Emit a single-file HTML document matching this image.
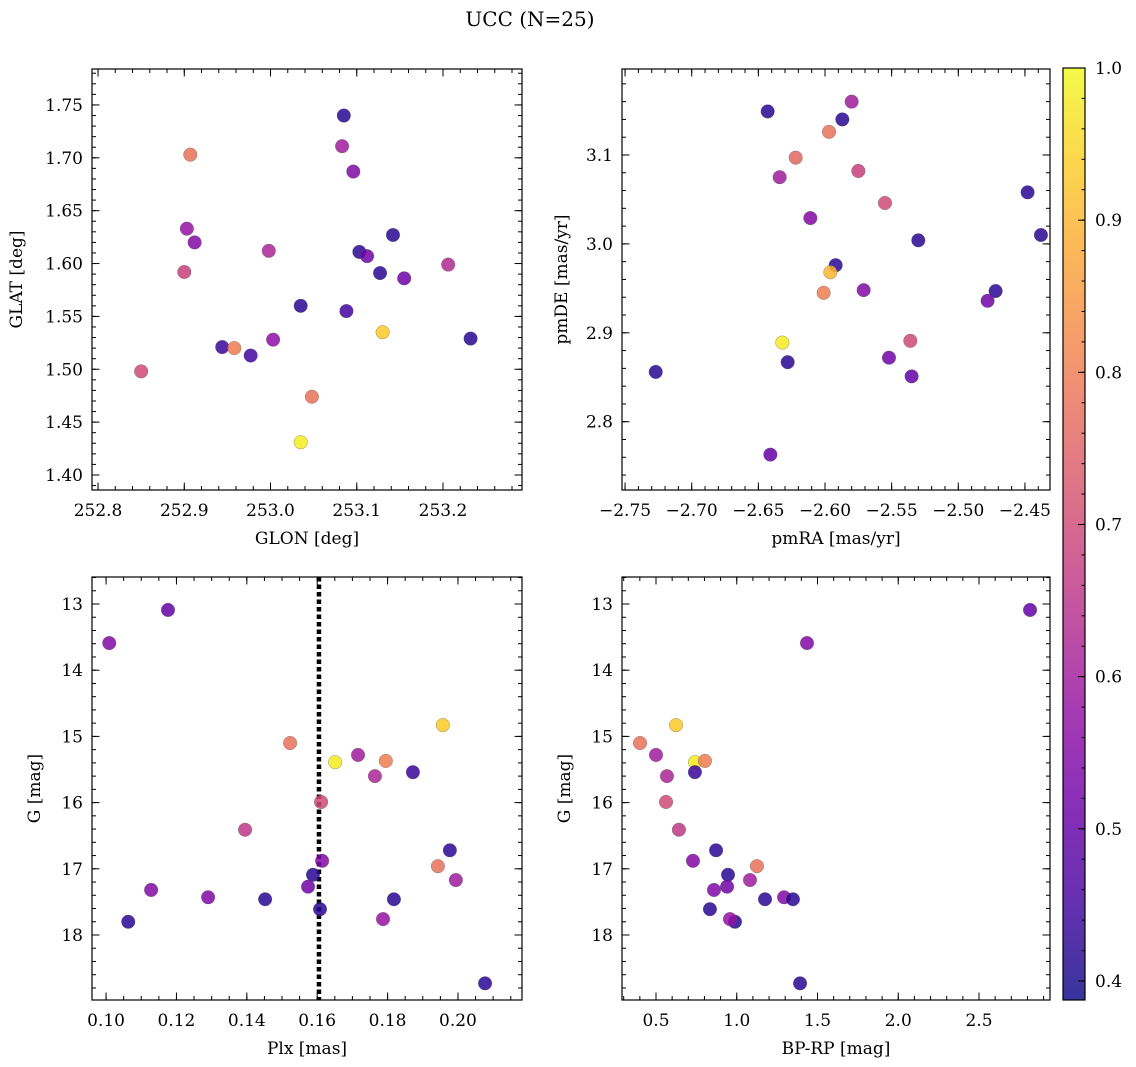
<!DOCTYPE html>
<html><head><meta charset="utf-8">
<style>
html,body{margin:0;padding:0;background:#fff;}
svg{display:block;font-family:"DejaVu Serif","Liberation Serif",serif;}
</style></head>
<body>
<svg id="fig" width="1136" height="1067" viewBox="0 0 1136 1067" xmlns="http://www.w3.org/2000/svg">
<defs>
<linearGradient id="plasma" x1="0" y1="1" x2="0" y2="0">
<stop offset="0" stop-color="#0d0887"/><stop offset="0.1" stop-color="#41049d"/><stop offset="0.2" stop-color="#6a00a8"/><stop offset="0.3" stop-color="#8f0da4"/><stop offset="0.4" stop-color="#b12a90"/><stop offset="0.5" stop-color="#cc4778"/><stop offset="0.6" stop-color="#e16462"/><stop offset="0.7" stop-color="#f2844b"/><stop offset="0.8" stop-color="#fca636"/><stop offset="0.9" stop-color="#fcce25"/><stop offset="1" stop-color="#f0f921"/>
</linearGradient>
</defs>
<text x="530" y="26" font-size="20" text-anchor="middle">UCC (N=25)</text>
</svg>
<script>
// ---- data ----
const glon = [253.085,252.907,253.083,253.096,252.903,252.912,252.998,252.900,253.103,253.112,253.142,253.127,253.155,253.206,253.035,253.088,253.130,252.944,252.958,252.977,253.003,253.232,252.850,253.048,253.035];
const glat = [1.740,1.703,1.711,1.687,1.633,1.620,1.612,1.592,1.611,1.607,1.627,1.591,1.586,1.599,1.560,1.555,1.535,1.521,1.520,1.513,1.528,1.529,1.498,1.474,1.431];
const probTop1 = [0.42,0.78,0.6,0.55,0.58,0.55,0.62,0.68,0.42,0.52,0.42,0.42,0.52,0.63,0.42,0.45,0.93,0.44,0.8,0.45,0.57,0.42,0.7,0.78,0.98];
const pmra = [-2.643,-2.580,-2.587,-2.597,-2.622,-2.634,-2.575,-2.448,-2.555,-2.611,-2.530,-2.438,-2.592,-2.596,-2.601,-2.571,-2.472,-2.478,-2.536,-2.632,-2.552,-2.628,-2.535,-2.727,-2.641];
const pmde = [3.149,3.160,3.140,3.126,3.097,3.075,3.082,3.058,3.046,3.029,3.004,3.010,2.976,2.968,2.945,2.948,2.947,2.936,2.891,2.889,2.872,2.867,2.851,2.856,2.763];
const probTop2 = [0.42,0.6,0.42,0.78,0.76,0.6,0.68,0.42,0.7,0.55,0.42,0.42,0.42,0.9,0.8,0.55,0.42,0.52,0.7,0.98,0.52,0.42,0.5,0.42,0.5];
const plx = [0.1176,0.1009,0.1523,0.1957,0.1651,0.1716,0.1795,0.1764,0.1872,0.1395,0.1611,0.1977,0.1614,0.1943,0.1994,0.1588,0.1574,0.1128,0.1290,0.1452,0.1818,0.1608,0.1063,0.1787,0.2077];
const gmag = [13.09,13.59,15.10,14.83,15.39,15.28,15.37,15.60,15.54,16.41,15.99,16.72,16.88,16.96,17.17,17.09,17.27,17.32,17.43,17.46,17.46,17.61,17.80,17.76,18.73];
const bprp = [2.816,1.435,0.401,0.624,0.741,0.500,0.803,0.568,0.741,0.642,0.562,0.872,0.729,1.125,1.082,0.946,0.940,0.859,1.293,1.175,1.348,0.834,0.989,0.958,1.392];
const probBot = [0.5,0.55,0.78,0.93,0.98,0.6,0.8,0.62,0.44,0.66,0.7,0.42,0.55,0.78,0.6,0.42,0.52,0.55,0.55,0.42,0.42,0.42,0.42,0.58,0.42];
const plxLine = [0.1605];
const ticksGlon = [252.8,252.9,253.0,253.1,253.2];
const ticksGlat = [1.40,1.45,1.50,1.55,1.60,1.65,1.70,1.75];
const ticksPmra = [-2.75,-2.70,-2.65,-2.60,-2.55,-2.50,-2.45];
const ticksPmde = [2.8,2.9,3.0,3.1];
const ticksPlx = [0.10,0.12,0.14,0.16,0.18,0.20];
const ticksG = [13,14,15,16,17,18];
const ticksBprp = [0.5,1.0,1.5,2.0,2.5];
const ticksCbar = [0.4,0.5,0.6,0.7,0.8,0.9,1.0];

const NS="http://www.w3.org/2000/svg";
const svg=document.getElementById('fig');
const stops=[[0,13,8,135],[0.1,65,4,157],[0.2,106,0,168],[0.3,143,13,164],[0.4,177,42,144],[0.5,204,71,120],[0.6,225,100,98],[0.7,242,132,75],[0.8,252,166,54],[0.9,252,206,37],[1,240,249,33]];
const CMIN=0.3875,CMAX=1.0;
function plasma(v){let t=(v-CMIN)/(CMAX-CMIN);t=Math.max(0,Math.min(1,t));
 for(let i=0;i<stops.length-1;i++){const a=stops[i],b=stops[i+1];if(t<=b[0]){const f=(t-a[0])/(b[0]-a[0]);
 return `rgb(${Math.round(a[1]+f*(b[1]-a[1]))},${Math.round(a[2]+f*(b[2]-a[2]))},${Math.round(a[3]+f*(b[3]-a[3]))})`;}}
 return 'rgb(240,249,33)';}
function mk(tag,attrs){const e=document.createElementNS(NS,tag);for(const k in attrs)e.setAttribute(k,attrs[k]);return e;}
function fmt(v,d){return v.toFixed(d).replace('-','\u2212');}

function panel(o){
 const g=mk('g',{});
 
 
 svg.appendChild(g);
 const sx=v=>o.x0+(v-o.xmin)/(o.xmax-o.xmin)*(o.x1-o.x0);
 const sy=o.invY?(v=>o.y0+(v-o.ymin)/(o.ymax-o.ymin)*(o.y1-o.y0)):(v=>o.y1-(v-o.ymin)/(o.ymax-o.ymin)*(o.y1-o.y0));
 const tg=mk('g',{stroke:'#000','stroke-width':1});
 g.appendChild(tg);
 function xt(v,len){const x=sx(v);if(x<o.x0-0.1||x>o.x1+0.1)return;
  tg.appendChild(mk('line',{x1:x,x2:x,y1:o.y1,y2:o.y1-len}));tg.appendChild(mk('line',{x1:x,x2:x,y1:o.y0,y2:o.y0+len}));}
 function yt(v,len){const y=sy(v);if(y<o.y0-0.1||y>o.y1+0.1)return;
  tg.appendChild(mk('line',{x1:o.x0,x2:o.x0+len,y1:y,y2:y}));tg.appendChild(mk('line',{x1:o.x1,x2:o.x1-len,y1:y,y2:y}));}
 for(let v=Math.ceil(o.xmin/o.xminor)*o.xminor;v<=o.xmax;v+=o.xminor)xt(v,4);
 for(let v=Math.ceil(o.ymin/o.yminor)*o.yminor;v<=o.ymax;v+=o.yminor)yt(v,4);
 o.xticks.forEach(v=>{xt(v,7.5);
  const t=mk('text',{x:sx(v),y:o.y1+26,'font-size':17,'text-anchor':'middle'});t.textContent=fmt(v,o.xd);
  
  
  g.appendChild(t);});
 o.yticks.forEach(v=>{yt(v,7.5);
  const t=mk('text',{x:o.x0-9,y:sy(v)+6,'font-size':17,'text-anchor':'end'});t.textContent=fmt(v,o.yd);
  
  
  g.appendChild(t);});
 const xl=mk('text',{x:(o.x0+o.x1)/2,y:o.y1+54,'font-size':17,'text-anchor':'middle'});xl.textContent=o.xlabel;
 
 
 g.appendChild(xl);
 const yx=o.ylabX,yy=(o.y0+o.y1)/2;
 const yl=mk('text',{x:yx,y:yy,'font-size':17,'text-anchor':'middle',transform:`rotate(-90 ${yx} ${yy})`});yl.textContent=o.ylabel;
 
 
 g.appendChild(yl);
 if(o.vline){o.vline.forEach(v=>{const l=mk('line',{x1:sx(v),x2:sx(v),y1:o.y0,y2:o.y1,stroke:'#000','stroke-width':4.5,'stroke-dasharray':'4.5 3'});
  
  
  g.appendChild(l);});}
 o.xs.forEach((xv,i)=>{const c=mk('circle',{cx:sx(xv),cy:sy(o.ys[i]),r:6.8,fill:plasma(o.cs[i]),'fill-opacity':0.85,stroke:'#555','stroke-width':0.5,'stroke-opacity':0.6});
  
  
  g.appendChild(c);});
 const fr=mk('rect',{x:o.x0,y:o.y0,width:o.x1-o.x0,height:o.y1-o.y0,fill:'none',stroke:'#000','stroke-width':1.2});
 
 
 g.appendChild(fr);
}

panel({name:'glon-glat-panel',x0:92,x1:522,y0:69,y1:490,xmin:252.793,xmax:253.2916,ymin:1.3858,ymax:1.784,
 xticks:ticksGlon,yticks:ticksGlat,xd:1,yd:2,xminor:0.02,yminor:0.01,xlabel:'GLON [deg]',ylabel:'GLAT [deg]',ylabX:22,
 xs:glon,ys:glat,cs:probTop1});
panel({name:'pm-panel',x0:622,x1:1050,y0:69,y1:490,xmin:-2.7523,xmax:-2.4312,ymin:2.7232,ymax:3.1967,
 xticks:ticksPmra,yticks:ticksPmde,xd:2,yd:1,xminor:0.01,yminor:0.02,xlabel:'pmRA [mas/yr]',ylabel:'pmDE [mas/yr]',ylabX:567,
 xs:pmra,ys:pmde,cs:probTop2});
panel({name:'plx-g-panel',x0:92,x1:522,y0:577,y1:1000,xmin:0.0960,xmax:0.2182,ymin:12.592,ymax:18.982,invY:true,
 xticks:ticksPlx,yticks:ticksG,xd:2,yd:0,xminor:0.005,yminor:0.2,xlabel:'Plx [mas]',ylabel:'G [mag]',ylabX:40,
 xs:plx,ys:gmag,cs:probBot,vline:plxLine});
panel({name:'cmd-panel',x0:622,x1:1050,y0:577,y1:1000,xmin:0.2895,xmax:2.9396,ymin:12.592,ymax:18.982,invY:true,
 xticks:ticksBprp,yticks:ticksG,xd:1,yd:0,xminor:0.1,yminor:0.2,xlabel:'BP-RP [mag]',ylabel:'G [mag]',ylabX:570,
 xs:bprp,ys:gmag,cs:probBot});

(function(){
 const x0=1063,x1=1085,y0=68,y1=1000;
 const g=mk('g',{});
 
 
 svg.appendChild(g);
 g.appendChild(mk('rect',{x:x0,y:y0,width:x1-x0,height:y1-y0,fill:'url(#plasma)','fill-opacity':0.82}));
 const sy=v=>y1-(v-CMIN)/(CMAX-CMIN)*(y1-y0);
 for(let v=0.40;v<=1.0001;v+=0.02){const y=sy(v);g.appendChild(mk('line',{x1:x1,x2:x1-3.5,y1:y,y2:y,stroke:'#000','stroke-width':1}));}
 ticksCbar.forEach(v=>{const y=sy(v);g.appendChild(mk('line',{x1:x1,x2:x1-7,y1:y,y2:y,stroke:'#000','stroke-width':1}));
  const t=mk('text',{x:x1+10,y:y+6,'font-size':17});t.textContent=v.toFixed(1);
  
  
  g.appendChild(t);});
 g.appendChild(mk('rect',{x:x0,y:y0,width:x1-x0,height:y1-y0,fill:'none',stroke:'#000','stroke-width':1.2}));
})();
</script>
</body></html>
